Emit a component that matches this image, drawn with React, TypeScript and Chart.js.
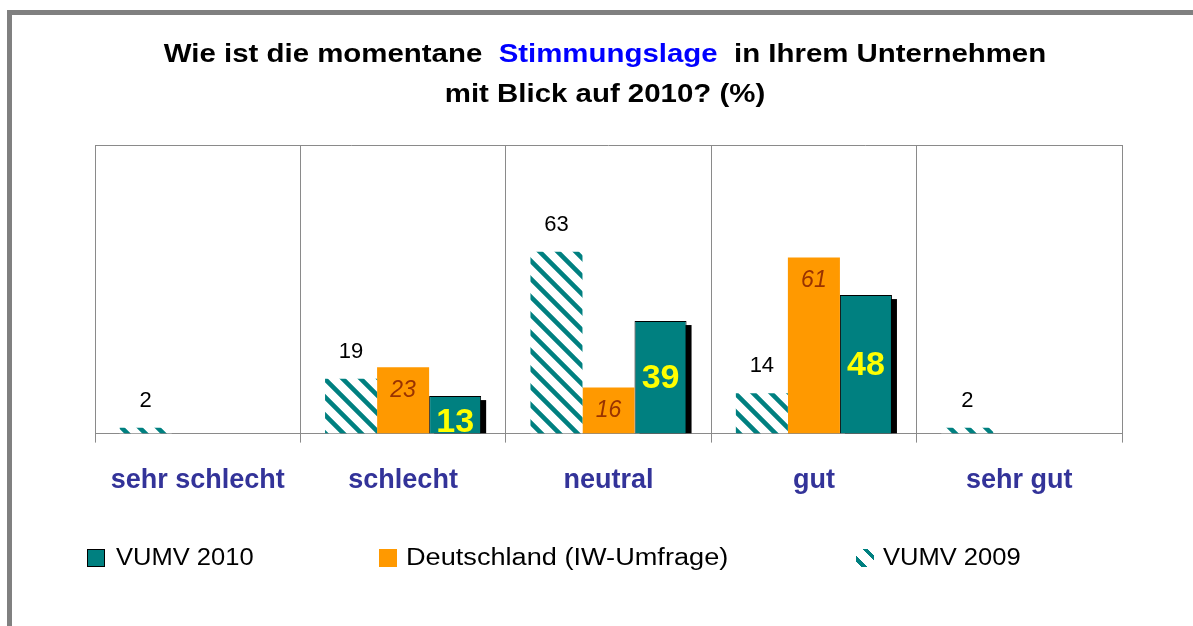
import React, { useEffect, useRef } from "react";
import { Chart, registerables } from "chart.js";

Chart.register(...registerables);

// ---------- data ----------
const categories = ["sehr schlecht", "schlecht", "neutral", "gut", "sehr gut"];
const vumv2009 = [2, 19, 63, 14, 2];
const deutschland = [null, 23, 16, 61, null];
const vumv2010 = [null, 13, 39, 48, null];
const seriesNames = ["VUMV 2009", "Deutschland (IW-Umfrage)", "VUMV 2010"];
const legendOrder = [2, 1, 0];
const yMin = 0;
const yMax = 100;

const FONT = "'Liberation Sans', Arial, Helvetica, sans-serif";
const TEAL = "#008080";
const ORANGE = "#FF9900";
const GRID = "#8a8a8a";

function makeHatch(ctx: CanvasRenderingContext2D) {
  const s = 18;
  const c = document.createElement("canvas");
  c.width = s;
  c.height = s;
  const g = c.getContext("2d")!;
  g.fillStyle = "#ffffff";
  g.fillRect(0, 0, s, s);
  g.strokeStyle = TEAL;
  g.lineWidth = 4.6;
  g.beginPath();
  for (const o of [-s, 0, s]) {
    g.moveTo(o - 3, -3);
    g.lineTo(o + s + 3, s + 3);
  }
  g.stroke();
  return ctx.createPattern(c, "repeat") as CanvasPattern;
}

const shadowPlugin = {
  id: "barShadow",
  beforeDatasetsDraw(chart: any) {
    const { ctx, chartArea } = chart;
    const meta = chart.getDatasetMeta(2);
    ctx.save();
    ctx.beginPath();
    ctx.rect(chartArea.left, chartArea.top, chartArea.right - chartArea.left, chartArea.bottom - chartArea.top);
    ctx.clip();
    ctx.fillStyle = "#000000";
    meta.data.forEach((el: any, i: number) => {
      const v = chart.data.datasets[2].data[i];
      if (v == null) return;
      const { x, y, base, width } = el.getProps(["x", "y", "base", "width"], true);
      ctx.fillRect(x - width / 2 + 5, y + 4, width, base - y - 4);
    });
    ctx.restore();
  },
};

const labelPlugin = {
  id: "valueLabels",
  afterDatasetsDraw(chart: any) {
    const { ctx } = chart;
    const styles = [
      { font: `normal 22px ${FONT}`, color: "#000000", pos: (y: number, b: number) => y - 27 },
      { font: `italic 23px ${FONT}`, color: "#993300", pos: (y: number, b: number) => y + 23 },
      {
        font: `bold 34px ${FONT}`,
        color: "#FFFF00",
        pos: (y: number, b: number) => (b - y < 50 ? b - 11 : (y + b) / 2 + 1),
      },
    ];
    ctx.save();
    ctx.textAlign = "center";
    ctx.textBaseline = "middle";
    chart.data.datasets.forEach((ds: any, di: number) => {
      const meta = chart.getDatasetMeta(di);
      const st = styles[di];
      meta.data.forEach((el: any, i: number) => {
        const v = ds.data[i];
        if (v == null) return;
        const { x, y, base } = el.getProps(["x", "y", "base"], true);
        ctx.font = st.font;
        ctx.fillStyle = st.color;
        ctx.fillText(String(v), x, st.pos(y, base));
      });
    });
    ctx.restore();
  },
};

const frameTopPlugin = {
  id: "frameTop",
  afterDraw(chart: any) {
    const { ctx, chartArea } = chart;
    ctx.save();
    ctx.strokeStyle = GRID;
    ctx.lineWidth = 1;
    ctx.beginPath();
    ctx.moveTo(chartArea.left, chartArea.top + 0.5);
    ctx.lineTo(chartArea.right, chartArea.top + 0.5);
    ctx.stroke();
    ctx.restore();
  },
};

export default function App() {
  const canvasRef = useRef<HTMLCanvasElement | null>(null);

  useEffect(() => {
    const canvas = canvasRef.current!;
    const ctx = canvas.getContext("2d")!;
    const hatch = makeHatch(ctx);
    const colors = [hatch, ORANGE, TEAL];
    const seriesData = [vumv2009, deutschland, vumv2010];
    const chart = new Chart(canvas, {
      type: "bar",
      data: {
        labels: categories,
        datasets: seriesData.map((d, i) => ({
          label: seriesNames[i],
          data: d,
          backgroundColor: colors[i],
          borderColor: "#000000",
          borderWidth: i === 2 ? 1 : 0,
          categoryPercentage: 0.76,
          barPercentage: 1.0,
        })),
      },
      options: {
        responsive: false,
        animation: false,
        devicePixelRatio: 1,
        layout: { padding: { left: 95, right: 71, top: 145, bottom: 107 } },
        scales: {
          x: {
            offset: true,
            grid: { color: GRID, tickLength: 9, offset: true, drawOnChartArea: true },
            border: { color: GRID },
            ticks: {
              color: "#333399",
              font: { family: FONT, size: 27, weight: "bold" },
              padding: 22,
              maxRotation: 0,
              autoSkip: false,
            },
          },
          y: { display: false, min: yMin, max: yMax },
        },
        plugins: {
          legend: { display: false },
          title: { display: false },
          tooltip: { enabled: false },
        },
      } as any,
      plugins: [shadowPlugin, labelPlugin, frameTopPlugin],
    });
    return () => chart.destroy();
  }, []);

  const legendBoxes: Record<number, React.CSSProperties> = {
    2: { background: TEAL, border: "1px solid #000", boxSizing: "border-box" },
    1: { background: ORANGE },
    0: {
      background: `repeating-linear-gradient(45deg, #ffffff 0px, #ffffff 4px, ${TEAL} 4px, ${TEAL} 8px, #ffffff 8px, #ffffff 13px)`,
    },
  };
  const legendPos = [
    { box: 87, text: 116, scale: 1.11 },
    { box: 379, text: 406, scale: 1.18 },
    { box: 856, text: 883, scale: 1.11 },
  ];

  return (
    <div style={{ position: "absolute", left: 0, top: 0, width: 1193, height: 626, overflow: "hidden", background: "#fff" }}>
      <canvas ref={canvasRef} width={1193} height={626} style={{ position: "absolute", left: 0, top: 0, width: 1193, height: 626 }} />
      <div
        style={{
          position: "absolute",
          left: 7,
          top: 10,
          width: 1186,
          height: 616,
          borderTop: "5px solid #808080",
          borderLeft: "5px solid #808080",
          boxSizing: "border-box",
          pointerEvents: "none",
        }}
      />
      <div
        style={{
          position: "absolute",
          left: 0,
          top: 33,
          width: 1210,
          textAlign: "center",
          fontFamily: FONT,
          fontWeight: "bold",
          fontSize: 26.5,
          lineHeight: "40px",
          color: "#000",
          whiteSpace: "pre",
          transform: "scaleX(1.11)",
          transformOrigin: "605px 0px",
        }}
      >
        <div>
          {"Wie ist die momentane  "}
          <span style={{ color: "#0000FF" }}>Stimmungslage</span>
          {"  in Ihrem Unternehmen"}
        </div>
        <div>mit Blick auf 2010? (%)</div>
      </div>
      {legendOrder.map((si, k) => (
        <React.Fragment key={si}>
          <div style={{ position: "absolute", left: legendPos[k].box, top: 549, width: 18, height: 18, ...legendBoxes[si] }} />
          <div
            style={{
              position: "absolute",
              left: legendPos[k].text,
              top: 545,
              fontFamily: FONT,
              fontSize: 23,
              lineHeight: "25px",
              color: "#000",
              whiteSpace: "pre",
              transform: `scaleX(${legendPos[k].scale})`,
              transformOrigin: "0px 0px",
            }}
          >
            {seriesNames[si]}
          </div>
        </React.Fragment>
      ))}
    </div>
  );
}
